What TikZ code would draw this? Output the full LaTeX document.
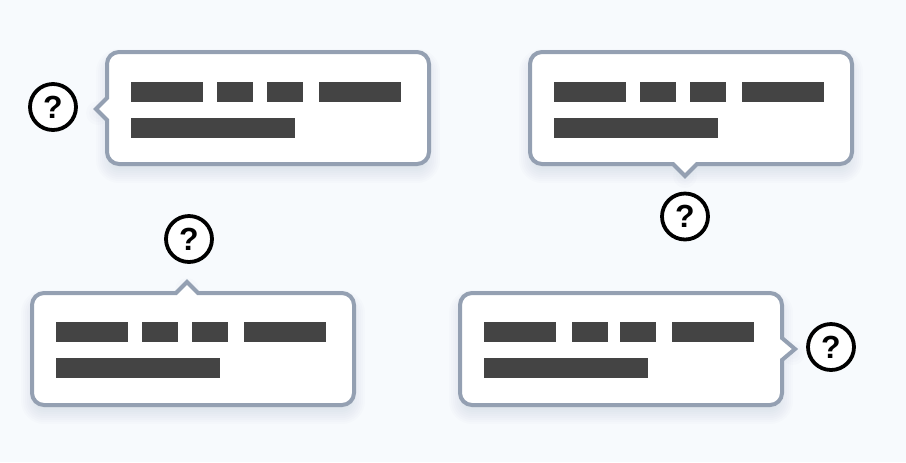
\documentclass[tikz,border=0pt]{standalone}
\usepackage{fontspec}
\setmainfont{Liberation Sans}
\definecolor{bgc}{HTML}{F7FAFD}
\definecolor{edgec}{HTML}{94A0B2}
\definecolor{barc}{HTML}{444444}
\definecolor{shadowc}{HTML}{3A4658}
\tikzset{
  px/.style={x=0.75pt,y=-0.75pt},
  bubble/.style={draw=edgec,fill=white,line width=3pt,line join=miter},
  bar/.style={fill=barc,draw=none},
  qmark/.style={circle,draw=black,fill=white,line width=2.85pt,minimum size=34.5pt,inner sep=0pt,
    font=\fontsize{24pt}{24pt}\selectfont\bfseries}
}
% L T R B, tail x, tail y: a soft shadow built from stacked rounded rectangles
\newcommand{\softshadow}[6]{%
  \foreach \e in {-11,-9,...,11}{
    \pgfmathsetmacro{\rad}{max(12+\e,2)*0.75}
    \fill[shadowc,fill opacity=0.013,rounded corners=\rad pt]
      (#1-\e,#2-\e+8) rectangle (#3+\e,#4+\e+8);
  }
  \foreach \r in {3,6,9,12}{
    \fill[shadowc,fill opacity=0.012] (#5,#6+4) circle[radius=\r];
  }
}
\newcommand{\barset}[3]{%
  \foreach \a/\b in {#1}{\fill[bar] (\a,#2) rectangle (\b,#2+20);}
  \fill[bar] (#3,#2+36) rectangle (#3+164,#2+56);
}
% L T R B, then tail fragments for the top, right, bottom and left sides
\newcommand{\rp}[8]{(#1+12,#2) #5 -- (#3-12,#2) .. controls (#3-5.4,#2) and (#3,#2+5.4) .. (#3,#2+12) #6
 -- (#3,#4-12) .. controls (#3,#4-5.4) and (#3-5.4,#4) .. (#3-12,#4) #7
 -- (#1+12,#4) .. controls (#1+5.4,#4) and (#1,#4-5.4) .. (#1,#4-12) #8
 -- (#1,#2+12) .. controls (#1,#2+5.4) and (#1+5.4,#2) .. (#1+12,#2) -- cycle}
\def\pathA{\rp{107}{52}{429}{164}{}{}{}{-- (107,120) -- (96,109) -- (107,98)}}
\def\pathB{\rp{530}{52}{852}{164}{}{}{-- (697,164) -- (685,176) -- (673,164)}{}}
\def\pathC{\rp{32}{293}{354}{405}{-- (176,293) -- (187,282) -- (198,293)}{}{}{}}
\def\pathD{\rp{460}{293}{782}{405}{}{-- (782,338) -- (795,349) -- (782,360)}{}{}}
\begin{document}
\begin{tikzpicture}[px]
\useasboundingbox (0,0) rectangle (906,462);
\fill[bgc] (0,0) rectangle (906,462);
\softshadow{107}{52}{429}{164}{98}{109}
\softshadow{530}{52}{852}{164}{685}{172}
\softshadow{32}{293}{354}{405}{187}{286}
\softshadow{460}{293}{782}{405}{793}{349}
\draw[bubble] \pathA;
\draw[bubble] \pathB;
\draw[bubble] \pathC;
\draw[bubble] \pathD;
\barset{131/203,217/253,267/303,319/401}{82}{131}
\barset{554/626,640/676,690/726,742/824}{82}{554}
\barset{56/128,142/178,192/228,244/326}{322}{56}
\barset{484/556,572/608,620/656,672/754}{322}{484}
\node[qmark] (qa) at (53,107) {?};
\node[qmark] (qb) at (685,216.5) {?};
\node[qmark] (qc) at (189,239) {?};
\node[qmark] (qd) at (831,347) {?};
\end{tikzpicture}
\end{document}
